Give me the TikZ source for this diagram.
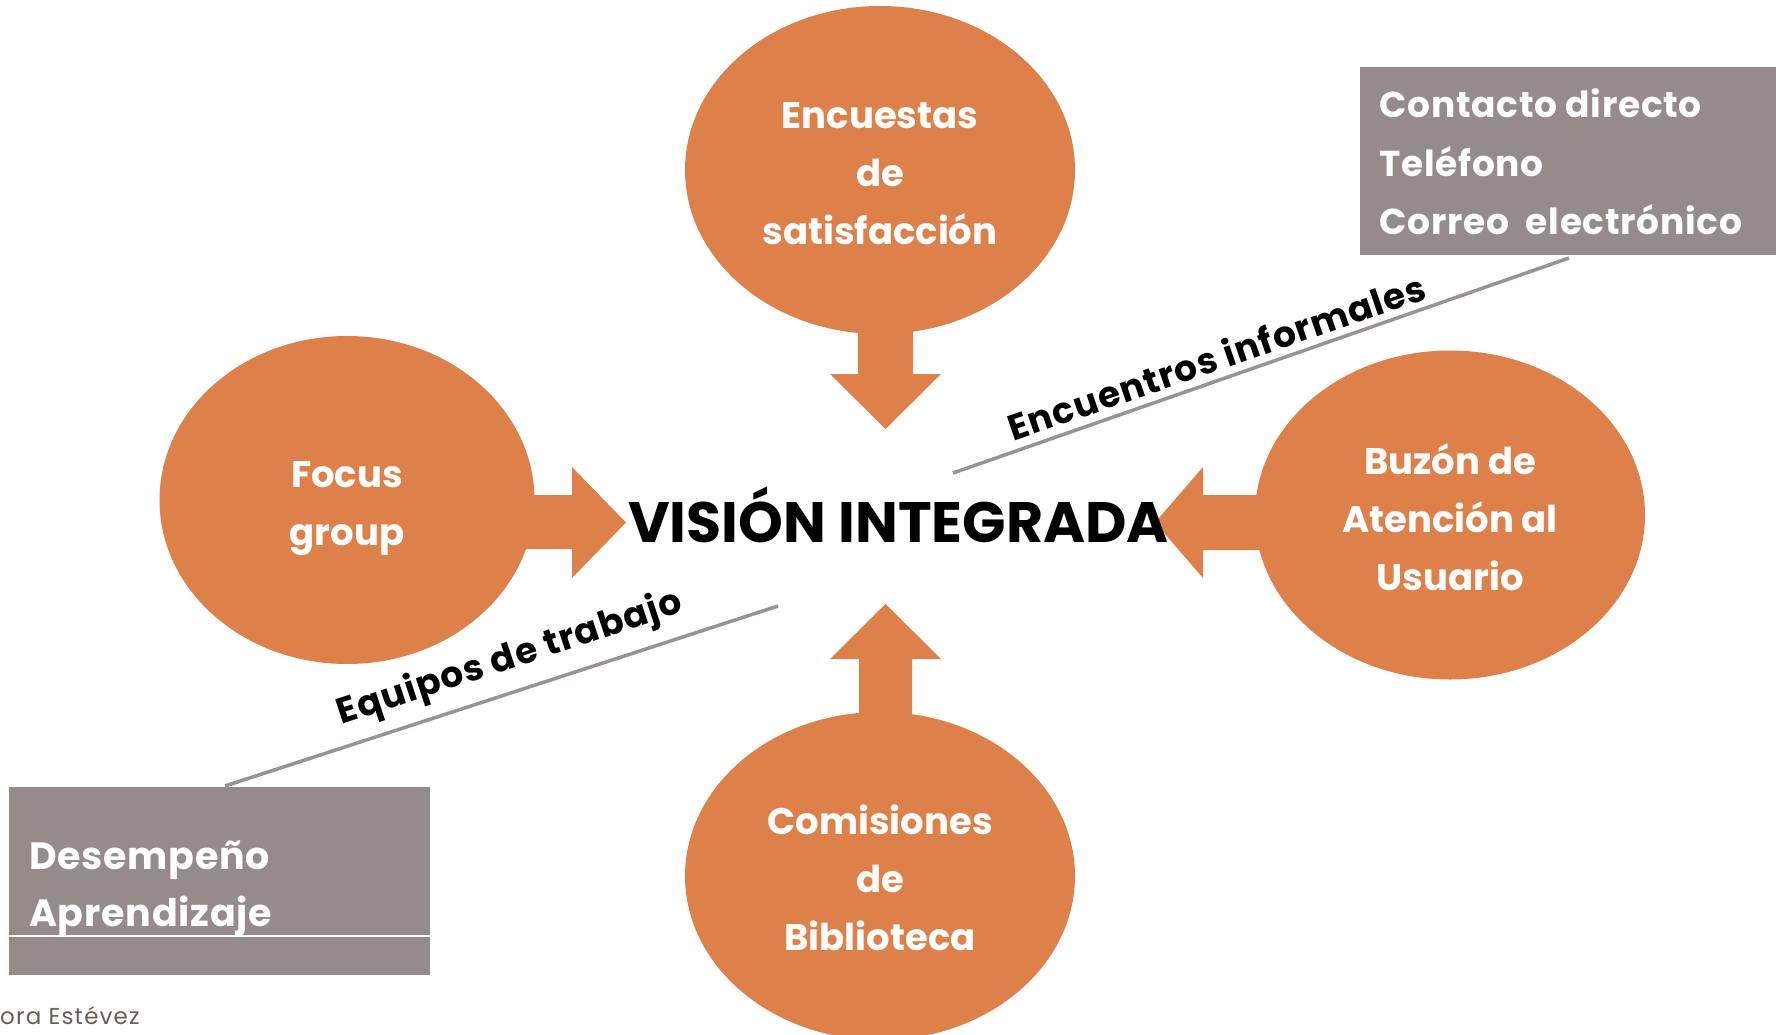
\documentclass[tikz,border=0pt]{standalone}
\usepackage{fontspec}
\setmainfont{Poppins}
\newfontfamily\boxfontTR[LetterSpace=2]{Poppins}
\newfontfamily\boxfontBL[LetterSpace=2]{Poppins}
\newfontfamily\slantfont[LetterSpace=3]{Poppins}
\newfontfamily\footfont[LetterSpace=5]{Poppins}
\usetikzlibrary{shapes.geometric}
\definecolor{orng}{RGB}{222,128,73}
\definecolor{boxgray}{RGB}{149,139,138}
\definecolor{linegray}{RGB}{155,145,145}
\definecolor{foot}{RGB}{110,92,84}
\tikzset{
  bubble/.style={ellipse, fill=orng, inner sep=0pt},
  bubbletext/.style={text=white, align=center, inner sep=0pt,
    font=\bfseries\fontsize{37}{58}\selectfont},
  blockarrow/.style={fill=orng, draw=none},
  graybox/.style={fill=boxgray, draw=none},
  boxtextTR/.style={text=white, anchor=base west, inner sep=0pt, font=\boxfontTR\bfseries\fontsize{36}{40}\selectfont},
  boxtextBL/.style={text=white, anchor=base west, inner sep=0pt, font=\boxfontBL\bfseries\fontsize{38}{42}\selectfont},
  connline/.style={draw=linegray, line width=3.5pt},
  slanted/.style={anchor=base, inner sep=0pt, font=\slantfont\bfseries\fontsize{36}{40}\selectfont},
}
\begin{document}
\begin{tikzpicture}[x=1pt,y=-1pt]
\useasboundingbox (0,0) rectangle (1776,1035);
\clip (0,0) rectangle (1776,1035);

% block arrows
\fill[blockarrow] (858,300) -- (913,300) -- (913,374) -- (941,374) -- (885.5,429) -- (830,374) -- (858,374) -- cycle;
\fill[blockarrow] (859,740) -- (912,740) -- (912,659) -- (941,659) -- (885.5,604) -- (830,659) -- (859,659) -- cycle;
\fill[blockarrow] (500,495) -- (572,495) -- (572,467) -- (626,522.5) -- (572,578) -- (572,549) -- (500,549) -- cycle;
\fill[blockarrow] (1290,495) -- (1203,495) -- (1203,467) -- (1155,522.5) -- (1203,578) -- (1203,550) -- (1290,550) -- cycle;

% bubbles
\node[bubble, minimum width=390pt, minimum height=328pt] (top) at (880,170) {};
\node[bubble, minimum width=375pt, minimum height=328pt] (left) at (347,500) {};
\node[bubble, minimum width=390pt, minimum height=329pt] (right) at (1450,515) {};
\node[bubble, minimum width=390pt, minimum height=328pt] (bottom) at (880,876) {};
\node[bubbletext] (toptext) at ([yshift=-3.5pt]top.center) {Encuestas\\de\\satisfacción};
\node[bubbletext] (lefttext) at ([yshift=-9pt]left.center) {Focus\\group};
\node[bubbletext] (righttext) at ([yshift=-2pt]right.center) {Buzón de\\Atención al\\Usuario};
\node[bubbletext] (bottomtext) at ([yshift=-2pt]bottom.center) {Comisiones\\de\\Biblioteca};

% centre
\node[anchor=base, inner sep=0pt, font=\bfseries\fontsize{57}{60}\selectfont] (vision) at (898.5,542) {VISIÓN INTEGRADA};

% gray boxes
\fill[graybox] (1360,67) rectangle (1776,255);
\node[boxtextTR] (c1) at (1379,118) {Contacto directo};
\node[boxtextTR] (c2) at (1379,176) {Teléfono};
\node[boxtextTR] (c3) at (1379,234) {Correo\ \ electrónico};

\fill[graybox] (9,787) rectangle (430,975);
\draw[white, line width=1.2pt] (9,936) -- (430,936);
\node[boxtextBL] (d1) at (29,869) {Desempeño};
\node[boxtextBL] (d2) at (29,926) {Aprendizaje};

% connector lines
\coordinate (trA) at (1569,258);
\coordinate (trB) at (953,473);
\coordinate (blA) at (225,786);
\coordinate (blB) at (778,606);
\draw[connline] (trA) -- (trB);
\draw[connline] (blA) -- (blB);

\node[slanted, rotate=19] (enc) at (1221,370) {Encuentros informales};
\node[slanted, rotate=18.3] (equ) at (513,668) {Equipos de trabajo};

% footer
\node[anchor=base west, inner sep=0pt, text=foot, font=\footfont\fontsize{23}{26}\selectfont] (footer) at (0,1024) {ora Estévez};
\end{tikzpicture}
\end{document}
